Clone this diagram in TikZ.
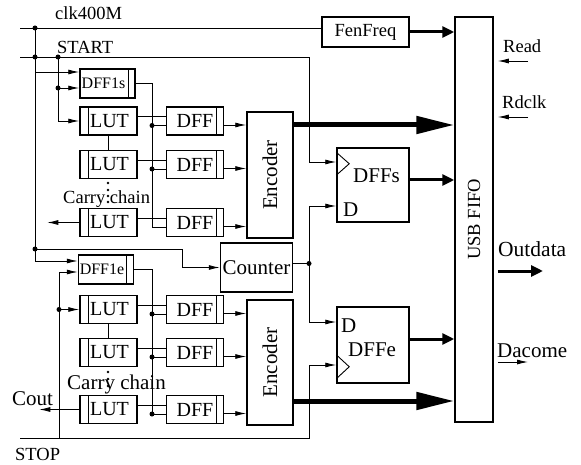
\documentclass[tikz,border=0pt]{standalone}
\usepackage{fontspec}
\setmainfont{Liberation Serif}
\usetikzlibrary{arrows.meta,positioning,calc}
\newcommand{\bigtxt}{\fontsize{21}{24}\selectfont}
\newcommand{\midtxt}{\fontsize{20}{23}\selectfont}
\newcommand{\smtxt}{\fontsize{18.5}{22}\selectfont}
\newcommand{\tinytxt}{\fontsize{16}{19}\selectfont}
\tikzset{
  blk/.style={draw, line width=1.5pt, inner sep=0pt,
    minimum width=57pt, minimum height=28pt, font=\bigtxt},
  lutbox/.style={blk, font=\midtxt, path picture={\draw[line width=1pt]
    ([xshift=8pt]path picture bounding box.north west) --
    ([xshift=8pt]path picture bounding box.south west);}},
  dffbox/.style={blk, font=\midtxt, path picture={\draw[line width=1pt]
    ([xshift=-7pt]path picture bounding box.north east) --
    ([xshift=-7pt]path picture bounding box.south east);}},
  wire/.style={line width=0.9pt},
  flow/.style={wire, -{Latex[length=11pt,width=5pt]}},
  midflow/.style={line width=3pt, -{Triangle[length=12pt,width=11pt]}},
  bigflow/.style={line width=5pt, -{Triangle[length=38pt,width=17pt]}},
  jdot/.style={circle, fill, inner sep=0pt, minimum size=5pt},
  lbl/.style={font=\smtxt, inner sep=0pt, anchor=base west}
}

\begin{document}
\begin{tikzpicture}[x=1pt, y=-1pt]
\useasboundingbox (0,0) rectangle (581,465);

% start group
\node[dffbox, minimum width=55pt, minimum height=29pt, label={[xshift=-4pt,font=\tinytxt]center:DFF1s}] (s1) at (107.5,83.5) {};
\node[lutbox] (l1) at (108.5,121) {\hspace{2pt}LUT};
\node[lutbox] (l2) at (108.5,164.5) {\hspace{2pt}LUT};
\node[lutbox] (l3) at (108.5,222.5) {\hspace{2pt}LUT};
\node[dffbox, right=28pt of l1] (d1) {DFF\hspace{2pt}};
\node[dffbox, right=28pt of l2] (d2) {DFF\hspace{2pt}};
\node[dffbox, right=28pt of l3] (d3) {DFF\hspace{2pt}};
\node[blk, minimum width=46pt, minimum height=126pt, label={[rotate=90,font=\bigtxt]center:Encoder}] (et) at (270,175) {};

% stop group
\node[dffbox, minimum width=55pt, minimum height=29pt, label={[xshift=-4pt,font=\tinytxt]center:DFF1e}] (e1) at (106,269.5) {};
\node[lutbox] (l4) at (108.5,309.5) {\hspace{2pt}LUT};
\node[lutbox] (l5) at (108.5,352.5) {\hspace{2pt}LUT};
\node[lutbox] (l6) at (108.5,409.5) {\hspace{2pt}LUT};
\node[dffbox, right=28pt of l4] (d4) {DFF\hspace{2pt}};
\node[dffbox, right=28pt of l5] (d5) {DFF\hspace{2pt}};
\node[dffbox, right=28pt of l6] (d6) {DFF\hspace{2pt}};
\node[blk, minimum width=46pt, minimum height=125pt, label={[rotate=90,font=\bigtxt]center:Encoder}] (eb) at (270,362.5) {};

\node[blk, minimum width=72pt, minimum height=49pt] (cnt) at (256.5,267.5) {Counter};
\node[blk, minimum width=87pt, minimum height=30pt, font=\smtxt] (ff) at (365.5,32) {FenFreq};
\node[blk, minimum width=72pt, minimum height=74pt] (dfs) at (373,185) {};
\node[blk, minimum width=72pt, minimum height=76pt] (dfe) at (373,345) {};
\node[blk, minimum width=38pt, minimum height=405pt, label={[rotate=90,font=\smtxt]center:USB FIFO}] (fifo) at (474,219.5) {};

% clock marks
\draw[wire] ([yshift=-5pt]dfs.north west) -- ++(13pt,-11.5pt) -- ++(-13pt,-11.5pt);
\draw[wire] ([yshift=5pt]dfe.south west) -- ++(13pt,12pt) -- ++(-13pt,12pt);
\node[lbl, font=\bigtxt] (dsd) at (343,217) {D};
\node[lbl, font=\bigtxt] (dsn) at (353,183) {DFFs};
\node[lbl, font=\bigtxt] (ded) at (341,332) {D};
\node[lbl, font=\bigtxt] (den) at (348,356) {DFFe};

% labels
\node[lbl] (tclk) at (55,20) {clk400M};
\node[lbl] (tst) at (57,54) {START};
\node[lbl] (tsp) at (15,460) {STOP};
\node[lbl, font=\bigtxt] (tco) at (12,405) {Cout};
\node[lbl] (tc1) at (63,204) {Carry chain};
\node[lbl, font=\bigtxt] (tc2) at (67,389) {Carry chain};
\node[lbl] (trd) at (503,53) {Read};
\node[lbl] (trc) at (502,109) {Rdclk};
\node[lbl, font=\fontsize{21.5}{24}\selectfont] (tod) at (498,257) {Outdata};
\node[lbl, font=\bigtxt] (tdc) at (497,357) {Dacome};

% rails
\coordinate (clkw) at (20,28);
\coordinate (stw) at (20,57);
\coordinate (spw) at (20,438);
\coordinate (ja) at (35,28);
\coordinate (jb) at (35,57);
\coordinate (jc) at (58,57);
\coordinate (jd) at ([yshift=-4.5pt]s1.west -| jc);
\coordinate (je) at (35,249);
\coordinate (ka) at (309,57);
\coordinate (kb) at (309,438);
\coordinate (kc) at (59,438);
\coordinate (kd) at (182,249);
\coordinate (jf) at (l4.west -| kc);
\coordinate (jg) at ([yshift=4pt]cnt.east -| ka);
\coordinate (rail) at (152,0);

\draw[wire] (clkw) -- (ff.west |- clkw);
\draw[wire] (ja) -- (je);
\draw[flow] ([yshift=11.5pt]s1.west -| ja) -- ([yshift=11.5pt]s1.west);
\draw[flow] (jc) |- (l1.west);
\draw[flow] (jd) -- ([yshift=-4.5pt]s1.west);
\draw[flow] (stw) -- (ka) |- ([yshift=23pt]dfs.west);
\draw[flow] (je) |- ([yshift=8.5pt]e1.west);
\draw[flow] (je) -- (kd) |- (cnt.west);
\draw[flow] (spw) -- (kb) |- ([yshift=-20pt]dfe.west);
\draw[flow] (kc) |- ([yshift=-2.5pt]e1.west);
\draw[flow] (jf) -- (l4.west);
\draw[wire] ([yshift=4pt]cnt.east) -- (jg);
\draw[flow] (jg) |- ([yshift=-21pt]dfs.west);
\draw[flow] (jg) |- ([yshift=23pt]dfe.west);
\foreach \p in {ja,jb,jc,jd,je,jf,jg} \node[jdot] at (\p) {};

% carry chains
\draw[wire] (l1.south) -- (l2.north);
\draw[wire] (l4.south) -- (l5.north);
\foreach \y in {183,190,196,202} \fill (108,\y) circle (1.3pt);
\foreach \y in {372,379,386} \fill (108,\y) circle (1.3pt);
\draw[flow] (l3.west) -- ([xshift=-32pt]l3.west);
\draw[flow] (l6.west) -- ([xshift=-40pt]l6.west);

\foreach \i in {1,...,6}
  \draw[wire] ([yshift=4.5pt]l\i.east) -- ([yshift=4.5pt]d\i.west);
\foreach \i in {1,2,3}
  \draw[flow] ([yshift=-4pt]d\i.east) -- ([yshift=-4pt]d\i.east -| et.west);
\foreach \i in {4,5,6}
  \draw[flow] ([yshift=-4pt]d\i.east) -- ([yshift=-4pt]d\i.east -| eb.west);

% clock rails to the DFFs
\draw[wire] (s1.east) -| ([yshift=-4.5pt]d3.west -| rail) -- ([yshift=-4.5pt]d3.west);
\foreach \i in {1,2}
  \draw[wire] ([yshift=-4.5pt]d\i.west -| rail) node[jdot]{} -- ([yshift=-4.5pt]d\i.west);
\draw[wire] (e1.east) -| ([yshift=-4.5pt]d6.west -| rail) node[jdot]{} -- ([yshift=-4.5pt]d6.west);
\foreach \i in {4,5}
  \draw[wire] ([yshift=-4.5pt]d\i.west -| rail) node[jdot]{} -- ([yshift=-4.5pt]d\i.west);

% into the FIFO
\draw[midflow] (ff.east) -- (ff.east -| fifo.west);
\draw[bigflow] ([yshift=50pt]et.east) -- ([yshift=50pt]et.east -| fifo.west);
\draw[midflow] ([yshift=5pt]dfs.east) -- ([yshift=5pt]dfs.east -| fifo.west);
\draw[midflow] ([yshift=6pt]dfe.east) -- ([yshift=6pt]dfe.east -| fifo.west);
\draw[bigflow] ([yshift=-38.5pt]eb.east) -- ([yshift=-38.5pt]eb.east -| fifo.west);

% right side
\coordinate (rda) at (528,61);
\coordinate (rdb) at (528,117);
\coordinate (oda) at (543,271);
\coordinate (dca) at (528,362);
\draw[flow] (rda) -- ([xshift=4pt]rda -| fifo.east);
\draw[flow] (rdb) -- ([xshift=4pt]rdb -| fifo.east);
\draw[midflow] ([xshift=4pt]oda -| fifo.east) -- (oda);
\draw[flow] ([xshift=4pt]dca -| fifo.east) -- (dca);
\end{tikzpicture}
\end{document}
